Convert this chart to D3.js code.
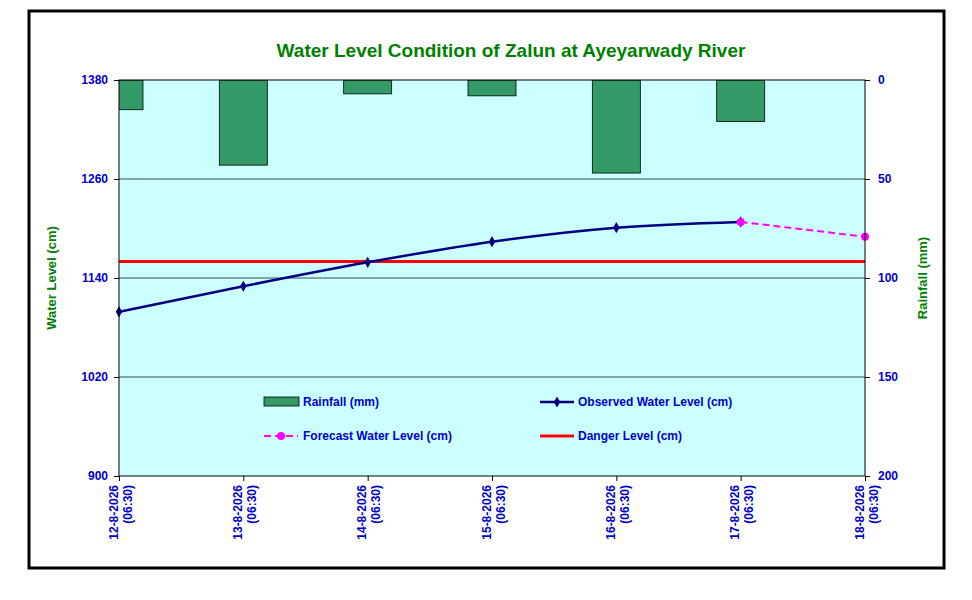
<!DOCTYPE html>
<html><head><meta charset="utf-8">
<script src="https://cdn.jsdelivr.net/npm/d3@7"></script>
<style>body{margin:0;background:#fff;font-family:Arial,"Liberation Sans",sans-serif}</style>
</head><body><svg id="c" width="972" height="600"></svg>
<script>
var dates = ["12-8-2026", "13-8-2026", "14-8-2026", "15-8-2026", "16-8-2026", "17-8-2026", "18-8-2026"];
var rainfall = [15, 43, 7, 8, 47, 21, null];
var observed = [1099, 1130, 1159, 1184, 1201, 1208, null];
var forecast = [null, null, null, null, null, 1208, 1190];
var danger = 1160;
var levelTicks = [900, 1020, 1140, 1260, 1380];
var rainTicks = [0, 50, 100, 150, 200];

var svg = d3.select("#c");
var L = 119, R = 865, T = 80, B = 476;
svg.append("rect").attr("x", 29).attr("y", 11).attr("width", 915).attr("height", 557)
  .attr("fill", "#fff").attr("stroke", "#000").attr("stroke-width", 3);
svg.append("text").attr("x", 511).attr("y", 57).attr("text-anchor", "middle")
  .attr("fill", "#008000").attr("font-weight", "bold").attr("font-size", 19)
  .text("Water Level Condition of Zalun at Ayeyarwady River");

var x = d3.scalePoint().domain(dates).range([L, R]);
var y = d3.scaleLinear().domain([900, 1380]).range([B, T]);
var yr = d3.scaleLinear().domain([0, 200]).range([T, B]);

svg.append("defs").append("clipPath").attr("id", "pc").append("rect")
  .attr("x", L).attr("y", T).attr("width", R - L).attr("height", B - T);
svg.append("rect").attr("x", L).attr("y", T).attr("width", R - L).attr("height", B - T)
  .attr("fill", "#ccffff");
svg.append("g").selectAll("line").data(levelTicks.slice(1, 4)).join("line")
  .attr("x1", L).attr("x2", R).attr("y1", y).attr("y2", y)
  .attr("stroke", "#000").attr("stroke-width", 0.7);

var bw = 48;
svg.append("g").attr("clip-path", "url(#pc)").selectAll("rect")
  .data(dates.map(function (d, i) { return { d: d, v: rainfall[i] }; }).filter(function (o) { return o.v != null; }))
  .join("rect")
  .attr("x", function (o) { return x(o.d) - bw / 2; }).attr("width", bw)
  .attr("y", T).attr("height", function (o) { return yr(o.v) - T; })
  .attr("fill", "#339966").attr("stroke", "#000").attr("stroke-width", 0.8);

svg.append("line").attr("x1", L).attr("x2", R).attr("y1", y(danger)).attr("y2", y(danger))
  .attr("stroke", "#ff0000").attr("stroke-width", 3);

var obs = dates.map(function (d, i) { return { d: d, v: observed[i] }; }).filter(function (o) { return o.v != null; });
var fc = dates.map(function (d, i) { return { d: d, v: forecast[i] }; }).filter(function (o) { return o.v != null; });
var line = d3.line().x(function (o) { return x(o.d); }).y(function (o) { return y(o.v); }).curve(d3.curveMonotoneX);
svg.append("path").attr("d", line(obs)).attr("fill", "none").attr("stroke", "#000080").attr("stroke-width", 2.5);
svg.append("g").selectAll("path").data(obs).join("path")
  .attr("transform", function (o) { return "translate(" + x(o.d) + "," + y(o.v) + ")"; })
  .attr("d", d3.symbol(d3.symbolDiamond, 36)).attr("fill", "#000080");
svg.append("path").attr("d", line(fc)).attr("fill", "none").attr("stroke", "#ff00ff")
  .attr("stroke-width", 2).attr("stroke-dasharray", "7,4");
svg.append("g").selectAll("circle").data(fc).join("circle")
  .attr("cx", function (o) { return x(o.d); }).attr("cy", function (o) { return y(o.v); })
  .attr("r", 4).attr("fill", "#ff00ff");

svg.append("rect").attr("x", L).attr("y", T).attr("width", R - L).attr("height", B - T)
  .attr("fill", "none").attr("stroke", "#000").attr("stroke-width", 1);

function styleAxis(g) {
  g.select(".domain").remove();
  g.selectAll("text").attr("fill", "#0000cc").attr("font-weight", "bold").attr("font-size", 12);
  g.selectAll("line").attr("stroke", "#000");
}
svg.append("g").attr("transform", "translate(" + L + ",0)")
  .call(d3.axisLeft(y).tickValues(levelTicks).tickFormat(d3.format("d")).tickSize(5).tickPadding(6)).call(styleAxis);
svg.append("g").attr("transform", "translate(" + R + ",0)")
  .call(d3.axisRight(yr).tickValues(rainTicks).tickFormat(d3.format("d")).tickSize(5).tickPadding(8)).call(styleAxis);
var xa = svg.append("g").attr("transform", "translate(0," + B + ")")
  .call(d3.axisBottom(x).tickSize(5).tickFormat(""));
xa.select(".domain").remove();
xa.selectAll(".tick").each(function (d) {
  var t = d3.select(this).append("text").attr("transform", "rotate(-90)")
    .attr("text-anchor", "end").attr("fill", "#0000cc").attr("font-weight", "bold").attr("font-size", 12);
  t.append("tspan").attr("x", -9).attr("y", -2).text(d);
  t.append("tspan").attr("x", -9).attr("y", 12).text("(06:30)");
});

svg.append("text").attr("transform", "translate(56,278) rotate(-90)").attr("text-anchor", "middle")
  .attr("fill", "#008000").attr("font-weight", "bold").attr("font-size", 13).text("Water Level (cm)");
svg.append("text").attr("transform", "translate(927,278) rotate(-90)").attr("text-anchor", "middle")
  .attr("fill", "#008000").attr("font-weight", "bold").attr("font-size", 13).text("Rainfall (mm)");

var lg = svg.append("g").attr("font-size", 12).attr("font-weight", "bold").attr("fill", "#0000cc");
lg.append("rect").attr("x", 264).attr("y", 397).attr("width", 35).attr("height", 9)
  .attr("fill", "#339966").attr("stroke", "#000").attr("stroke-width", 0.8);
lg.append("text").attr("x", 303).attr("y", 406).text("Rainfall (mm)");
lg.append("line").attr("x1", 540).attr("x2", 574).attr("y1", 402).attr("y2", 402).attr("stroke", "#000080").attr("stroke-width", 2.5);
lg.append("path").attr("transform", "translate(557,402)").attr("d", d3.symbol(d3.symbolDiamond, 36)).attr("fill", "#000080");
lg.append("text").attr("x", 578).attr("y", 406).text("Observed Water Level (cm)");
lg.append("line").attr("x1", 264).attr("x2", 298).attr("y1", 436).attr("y2", 436).attr("stroke", "#ff00ff").attr("stroke-width", 2).attr("stroke-dasharray", "7,4");
lg.append("circle").attr("cx", 281).attr("cy", 436).attr("r", 4).attr("fill", "#ff00ff");
lg.append("text").attr("x", 303).attr("y", 440).text("Forecast Water Level (cm)");
lg.append("line").attr("x1", 540).attr("x2", 574).attr("y1", 436).attr("y2", 436).attr("stroke", "#ff0000").attr("stroke-width", 3);
lg.append("text").attr("x", 578).attr("y", 440).text("Danger Level (cm)");
</script></body></html>
